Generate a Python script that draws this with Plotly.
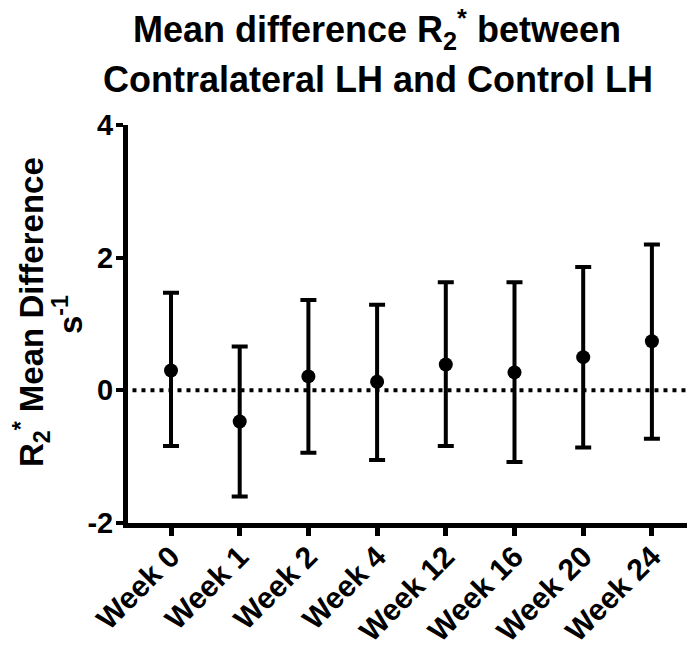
import plotly.graph_objects as go

categories = ["Week 0", "Week 1", "Week 2", "Week 4", "Week 12", "Week 16", "Week 20", "Week 24"]
mean_diff = [0.30, -0.47, 0.21, 0.13, 0.39, 0.27, 0.50, 0.74]
upper = [1.47, 0.66, 1.36, 1.29, 1.63, 1.63, 1.86, 2.20]
lower = [-0.84, -1.60, -0.94, -1.05, -0.84, -1.08, -0.86, -0.73]
y_ticks = [-2, 0, 2, 4]

err_plus = [u - m for u, m in zip(upper, mean_diff)]
err_minus = [m - l for m, l in zip(mean_diff, lower)]
xi = list(range(len(categories)))

FONT = "Liberation Sans"
W, H = 687, 647
L, R, T, B = 128, 0, 125, 124
PW, PH = W - L - R, H - T - B


def px_x(px):
    return (px - L) / PW


def px_y(py):
    return (H - B - py) / PH


fig = go.Figure()
fig.add_trace(go.Scatter(
    x=xi, y=mean_diff, mode="markers",
    marker=dict(size=14, color="black"),
    error_y=dict(type="data", symmetric=False, array=err_plus, arrayminus=err_minus,
                 thickness=4, width=8, color="black"),
    showlegend=False, cliponaxis=False,
))

fig.add_shape(type="line", xref="paper", yref="y", x0=0.008, x1=1, y0=0, y1=0,
              line=dict(color="black", width=4, dash="4px,5px"), layer="below")

fig.add_annotation(
    text="<b>Mean difference R<sub>2</sub><sup>*</sup> between</b>",
    xref="paper", yref="paper", x=px_x(377), y=px_y(29), xanchor="center", yanchor="middle",
    showarrow=False, font=dict(size=36, family=FONT, color="black"),
)
fig.add_annotation(
    text="<b>Contralateral LH and Control LH</b>",
    xref="paper", yref="paper", x=px_x(378), y=px_y(79), xanchor="center", yanchor="middle",
    showarrow=False, font=dict(size=36, family=FONT, color="black"),
)
fig.add_annotation(
    text="<b>R<sub>2</sub><sup>*</sup> Mean Difference</b>",
    xref="paper", yref="paper", x=px_x(31), y=px_y(312), xanchor="center", yanchor="middle",
    textangle=-90, showarrow=False,
    font=dict(size=33, family=FONT, color="black"),
)
fig.add_annotation(
    text="<b>s<sup>-1</sup></b>",
    xref="paper", yref="paper", x=px_x(68), y=px_y(315), xanchor="center", yanchor="middle",
    textangle=-90, showarrow=False,
    font=dict(size=33, family=FONT, color="black"),
)

fig.update_layout(
    width=W, height=H,
    margin=dict(l=L, r=R, t=T, b=B),
    paper_bgcolor="white", plot_bgcolor="white",
    font=dict(family=FONT, color="black"),
    xaxis=dict(
        range=[-0.626, 7.511], tickvals=xi, ticktext=["<b>%s</b>" % c for c in categories],
        tickangle=-45, showline=True, linewidth=5, linecolor="black",
        ticks="outside", ticklen=8, tickwidth=5, tickcolor="black",
        showgrid=False, zeroline=False, tickfont=dict(size=30, family=FONT),
        automargin=False, ticklabelstandoff=-9,
    ),
    yaxis=dict(
        range=[-2, 4], tickvals=y_ticks, ticktext=["<b>%d</b>" % v for v in y_ticks],
        showline=True, linewidth=5, linecolor="black",
        ticks="outside", ticklen=7, tickwidth=4, tickcolor="black",
        showgrid=False, zeroline=False, tickfont=dict(size=29, family=FONT),
        automargin=False, ticklabelstandoff=-3,
    ),
)

fig.write_html("out.html", config={"displayModeBar": False},
               post_script="document.body.style.margin='0';")
